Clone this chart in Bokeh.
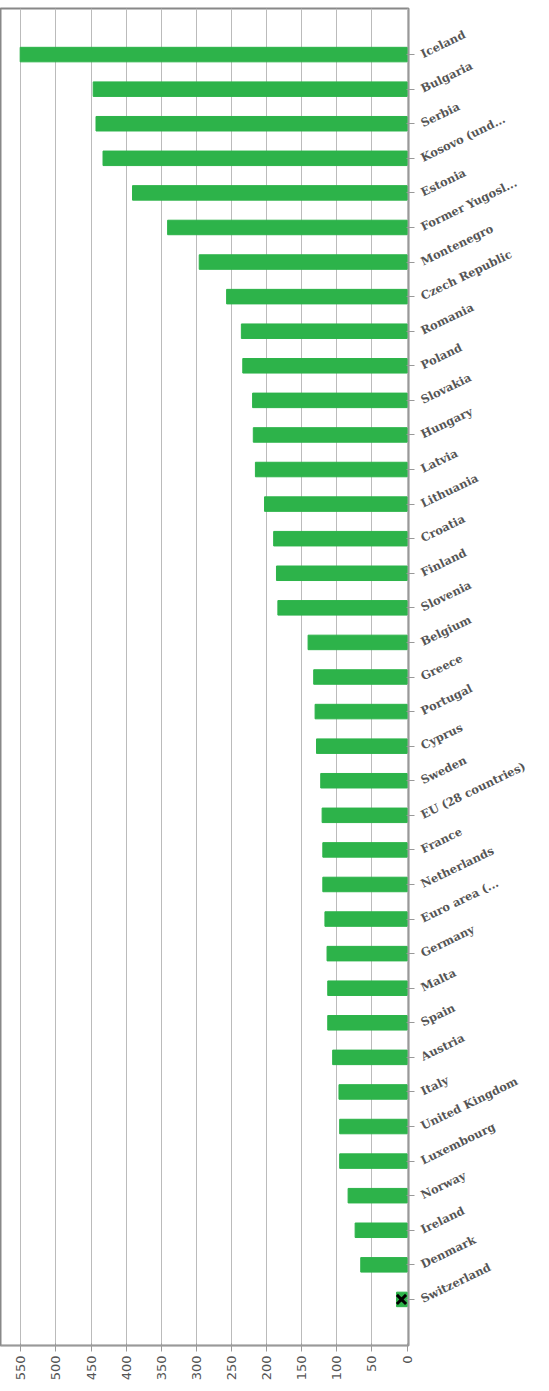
import math
from bokeh.plotting import figure
from bokeh.models import Range1d, FixedTicker, FactorRange
from bokeh.embed import file_html
from bokeh.resources import INLINE

countries = ["Iceland","Bulgaria","Serbia","Kosovo (und...","Estonia","Former Yugosl...","Montenegro",
 "Czech Republic","Romania","Poland","Slovakia","Hungary","Latvia","Lithuania","Croatia","Finland",
 "Slovenia","Belgium","Greece","Portugal","Cyprus","Sweden","EU (28 countries)","France","Netherlands",
 "Euro area (...","Germany","Malta","Spain","Austria","Italy","United Kingdom","Luxembourg","Norway",
 "Ireland","Denmark","Switzerland"]
values = [551,447,443,433,391,341,296,257,236,234,220,219,216,203,190,186,184,141,133,131,129,123,121,
 120,120,117,114,113,113,106,97,96,96,84,74,66,15]
flag_country = ["Switzerland"]
flag_value = [8]

p = figure(width=533, height=1383, y_range=FactorRange(factors=list(reversed(countries)), range_padding=0.045),
           x_range=Range1d(579, -2),
           y_axis_location="right", output_backend="svg", toolbar_location=None,
           min_border_left=0, min_border_top=8, min_border_right=110, min_border_bottom=0)
p.hbar(y=countries, right=values, left=0, height=0.42, color="#2db34a")
p.scatter(x=flag_value, y=flag_country, marker="x", size=13, line_color="black", line_width=3)

p.xaxis.ticker = FixedTicker(ticks=list(range(0, 551, 50)))
p.xaxis.major_label_orientation = math.pi/2
p.xaxis.major_label_text_font = "DejaVu Sans"
p.xaxis.major_label_text_font_size = "13px"
p.xaxis.major_label_text_color = "#555555"
p.xaxis.major_label_standoff = 4
p.yaxis.major_label_orientation = 0.45
p.yaxis.major_label_text_font = "DejaVu Serif"
p.yaxis.major_label_text_font_style = "bold"
p.yaxis.major_label_text_font_size = "11.5px"
p.yaxis.major_label_text_color = "#555555"
p.yaxis.major_label_standoff = 7
for ax in (p.xaxis, p.yaxis):
    ax.axis_line_color = "#999999"
    ax.major_tick_line_color = "#999999"
    ax.minor_tick_line_color = None
p.ygrid.grid_line_color = None
p.xgrid.grid_line_color = "#bbbbbb"
p.outline_line_color = "#888888"
p.outline_line_width = 2

open("out.html", "w").write(file_html(p, INLINE))
